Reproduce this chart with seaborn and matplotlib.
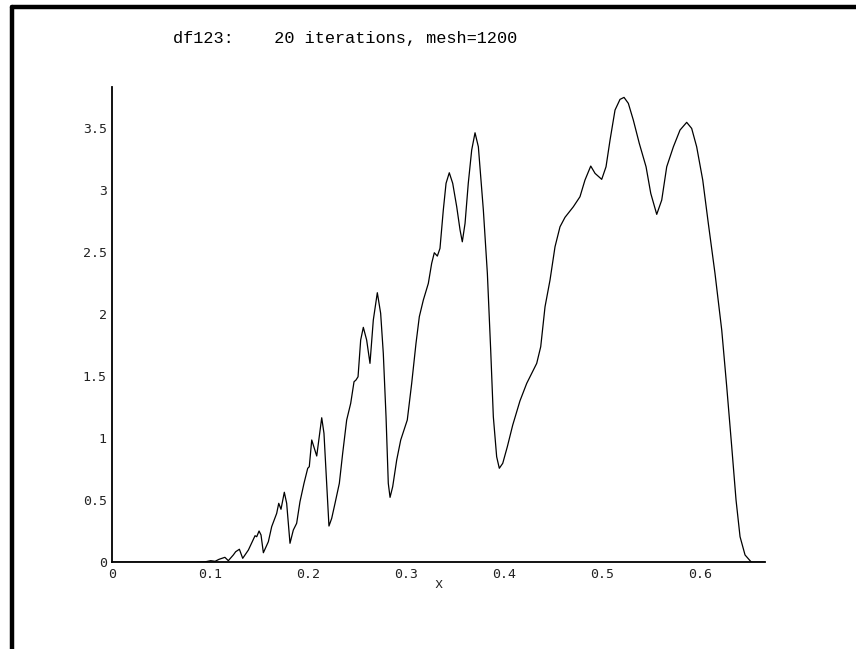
import numpy as np
import pandas as pd
import matplotlib
matplotlib.use("Agg")
import matplotlib.pyplot as plt
from matplotlib.lines import Line2D
import seaborn as sns

# values
x_vals = [0.0, 0.085, 0.095, 0.1005, 0.105, 0.109, 0.115, 0.1185, 0.1236, 0.126,
          0.1298, 0.1332, 0.139, 0.1434, 0.1458, 0.1475, 0.1499, 0.1519, 0.1543,
          0.1594, 0.1628, 0.1679, 0.170, 0.1723, 0.1757, 0.1781, 0.1815, 0.1849,
          0.1883, 0.1917, 0.1958, 0.1996, 0.2012, 0.2037, 0.2063, 0.2088, 0.2114,
          0.2139, 0.2162, 0.219, 0.2213, 0.2241, 0.2275, 0.2319, 0.2353, 0.2394,
          0.2435, 0.2469, 0.2489, 0.251, 0.2537, 0.2564, 0.2598, 0.2632, 0.2666,
          0.2707, 0.2741, 0.2768, 0.2796, 0.2819, 0.2837, 0.2864, 0.2905, 0.2946,
          0.3013, 0.3058, 0.3102, 0.3136, 0.3177, 0.3228, 0.3262, 0.3289, 0.332,
          0.3347, 0.3381, 0.3409, 0.3442, 0.3477, 0.3518, 0.3552, 0.3575, 0.3603,
          0.3636, 0.3671, 0.3705, 0.3739, 0.379, 0.3831, 0.3865, 0.3892, 0.3926,
          0.3953, 0.3988, 0.4035, 0.409, 0.4164, 0.4233, 0.4335, 0.4376, 0.442,
          0.4471, 0.4522, 0.4573, 0.4624, 0.4709, 0.4777, 0.4828, 0.4887, 0.4931,
          0.4999, 0.5043, 0.5084, 0.5135, 0.5186, 0.5227, 0.5271, 0.5322, 0.5383,
          0.5452, 0.550, 0.5561, 0.5612, 0.5663, 0.5731, 0.5799, 0.5867, 0.5918,
          0.5969, 0.6031, 0.6088, 0.6156, 0.6225, 0.6276, 0.6327, 0.6371, 0.6412,
          0.6463, 0.6514, 0.653, 0.6667]
y_vals = [0.0, 0.0, 0.004, 0.013, 0.008, 0.024, 0.040, 0.013, 0.059, 0.085,
          0.105, 0.032, 0.099, 0.174, 0.214, 0.206, 0.252, 0.220, 0.077,
          0.166, 0.287, 0.394, 0.475, 0.427, 0.564, 0.475, 0.153, 0.260,
          0.314, 0.488, 0.636, 0.757, 0.770, 0.985, 0.918, 0.856, 1.011,
          1.164, 1.039, 0.636, 0.292, 0.354, 0.475, 0.636, 0.877, 1.146,
          1.280, 1.454, 1.468, 1.494, 1.790, 1.892, 1.790, 1.602, 1.951,
          2.171, 2.005, 1.683, 1.172, 0.636, 0.523, 0.609, 0.824, 0.985,
          1.146, 1.441, 1.763, 1.978, 2.112, 2.246, 2.407, 2.493, 2.466,
          2.528, 2.837, 3.052, 3.137, 3.052, 2.863, 2.676, 2.581, 2.729,
          3.052, 3.320, 3.459, 3.346, 2.837, 2.327, 1.709, 1.172, 0.850,
          0.757, 0.797, 0.931, 1.105, 1.300, 1.441, 1.602, 1.736, 2.058,
          2.273, 2.541, 2.702, 2.778, 2.863, 2.944, 3.078, 3.191, 3.132,
          3.084, 3.185, 3.400, 3.642, 3.728, 3.744, 3.696, 3.561, 3.373,
          3.185, 2.971, 2.802, 2.917, 3.185, 3.346, 3.481, 3.543, 3.494,
          3.346, 3.078, 2.729, 2.327, 1.870, 1.414, 0.931, 0.502, 0.206,
          0.059, 0.013, 0.0, 0.0]

x_ticks = [0, 0.1, 0.2, 0.3, 0.4, 0.5, 0.6]
x_ticklabels = ["0", "0.1", "0.2", "0.3", "0.4", "0.5", "0.6"]
y_ticks = [0, 0.5, 1, 1.5, 2, 2.5, 3, 3.5]
y_ticklabels = ["0", "0.5", "1", "1.5", "2", "2.5", "3", "3.5"]

df = pd.DataFrame({"x": x_vals, "y": y_vals})

sns.set_style("white")
fig = plt.figure(figsize=(8.56, 6.49), dpi=100)
ax = fig.add_axes([0.1312, 0.1336, 0.7625, 0.7328])

sns.lineplot(data=df, x="x", y="y", ax=ax, color="black", linewidth=0.9,
             sort=False, estimator=None)

ax.set_xlim(0, 0.6667)
ax.set_ylim(0, 3.83)
for side in ["top", "right"]:
    ax.spines[side].set_visible(False)
for side in ["left", "bottom"]:
    ax.spines[side].set_color("black")
    ax.spines[side].set_linewidth(1.3)

mono = "DejaVu Sans Mono"
ax.set_xticks(x_ticks)
ax.set_xticklabels(x_ticklabels, family=mono, fontsize=9.5, color="#222222")
ax.set_yticks(y_ticks)
ax.set_yticklabels(y_ticklabels, family=mono, fontsize=9.5, color="#222222")
ax.tick_params(axis="both", direction="in", length=4.5, width=1.0, color="black")
ax.tick_params(axis="x", pad=4)
ax.tick_params(axis="y", pad=4)
ax.set_xlabel("x", family="Liberation Mono", fontsize=10, labelpad=-3)
ax.set_ylabel("")

fig.text(345 / 856, 1 - 38 / 649, "df123:    20 iterations, mesh=1200",
         family="Liberation Mono", fontsize=12.2, ha="center", va="center",
         color="black")

# window frame edges (top and left)
fig.add_artist(Line2D([12 / 856, 1.0], [1 - 7 / 649, 1 - 7 / 649],
                      transform=fig.transFigure, color="black", linewidth=3.2))
fig.add_artist(Line2D([12 / 856, 12 / 856], [0.0, 1 - 7 / 649],
                      transform=fig.transFigure, color="black", linewidth=3.2))

fig.savefig("out.png", dpi=100)
